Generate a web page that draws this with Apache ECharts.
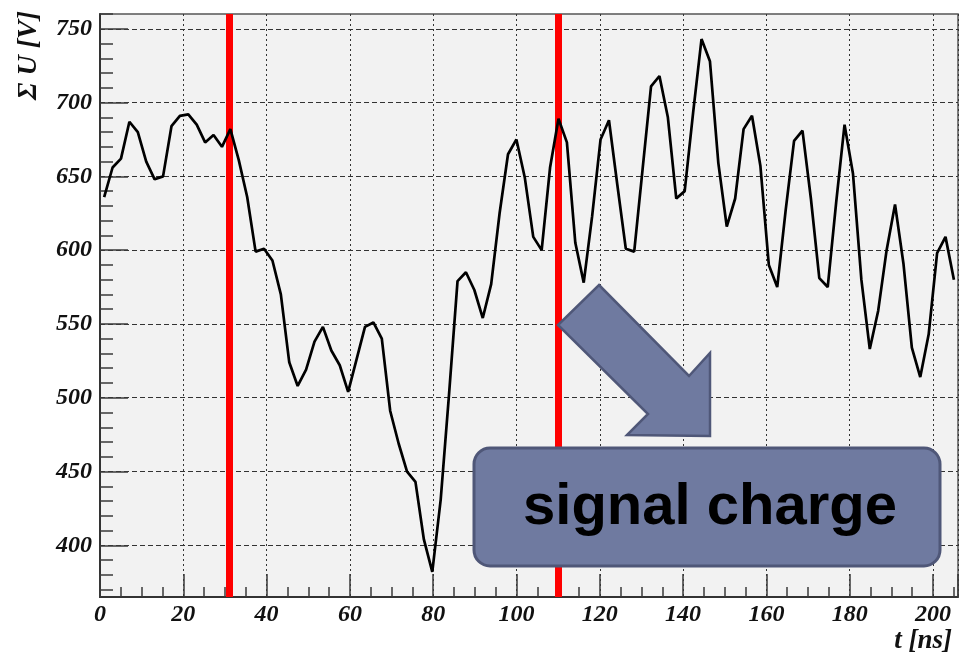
<!DOCTYPE html>
<html>
<head>
<meta charset="utf-8">
<script src="https://cdn.jsdelivr.net/npm/echarts@6/dist/echarts.min.js"></script>
<style>
html, body { margin: 0; padding: 0; background: #fff; }
#main { width: 971px; height: 659px; }
</style>
</head>
<body>
<div id="main"></div>
<script>
// sum voltage samples, first sample at t0, one sample every dt ns
var t0 = 1;
var dt = 2.02;
var sumU = [
    636, 656, 662, 687, 680, 660, 648, 650, 684, 691, 692, 685, 673, 678, 670, 682, 661, 636, 599, 601, 593, 570,
    524, 508, 519, 538, 548, 532, 522, 504, 526, 548, 551, 540,
    491, 469, 450, 443, 404, 382, 431, 503, 579, 585, 573, 554, 577, 625, 665, 675, 649,
    609, 600, 656, 689, 673, 605, 578, 623, 675, 688, 644, 601, 599, 655, 711, 718,
    690, 635, 640, 693, 743, 728, 659, 616, 635, 682, 691, 657, 590, 575, 627, 674, 681, 635, 581, 575, 632, 685, 652,
    580, 533, 559, 600, 631, 591, 534, 514, 543, 598, 609, 580
];
// red marker lines [ns]
var markers = [31, 110];

var xLabels = [0, 20, 40, 60, 80, 100, 120, 140, 160, 180, 200];
var yLabels = [400, 450, 500, 550, 600, 650, 700, 750];

var points = sumU.map(function (v, i) { return [t0 + dt * i, v]; });

// small ticks: every 5 ns / every 10 V
var xMinor = [];
for (var x = 5; x <= 205; x += 5) { if (x % 20 !== 0) xMinor.push(x); }
var yMinor = [];
for (var y = 370; y <= 760; y += 10) { if (y % 50 !== 0) yMinor.push(y); }

var serif = "'Liberation Serif', 'DejaVu Serif', serif";
var labelStyle = {
    fontFamily: serif, fontWeight: 'bold', fontStyle: 'italic',
    fontSize: 24, color: '#111'
};
var tickColor = '#3a3a3a';

var option = {
    animation: false,
    backgroundColor: '#ffffff',
    grid: {
        left: 100, right: 13, top: 14, bottom: 62,
        show: true,
        backgroundColor: '#f2f2f2',
        borderColor: '#555',
        borderWidth: 1.5
    },
    xAxis: [
        {
            type: 'value', min: 0, max: 206, interval: 20, position: 'bottom',
            axisLine: { onZero: false, lineStyle: { color: '#333', width: 2 } },
            axisTick: { inside: true, length: 23, lineStyle: { color: tickColor, width: 1.5 } },
            axisLabel: Object.assign({ margin: 6, customValues: xLabels }, labelStyle),
            splitLine: { show: true, lineStyle: { color: '#333', width: 1, type: [2, 3] } }
        },
        {
            type: 'value', min: 0, max: 206, position: 'bottom',
            axisLine: { show: false, onZero: false },
            axisTick: { inside: true, length: 10, customValues: xMinor, lineStyle: { color: tickColor, width: 1.5 } },
            axisLabel: { show: false },
            splitLine: { show: false }
        }
    ],
    yAxis: [
        {
            type: 'value', min: 365, max: 760, splitNumber: 8, position: 'left',
            axisLine: { show: true, onZero: false, lineStyle: { color: '#333', width: 2 } },
            axisTick: { show: true, inside: true, length: 28, customValues: yLabels, lineStyle: { color: tickColor, width: 1.5 } },
            axisLabel: Object.assign({ margin: 8, customValues: yLabels }, labelStyle),
            splitLine: { show: true, lineStyle: { color: '#333', width: 1, type: [5, 3] } }
        },
        {
            type: 'value', min: 365, max: 760, position: 'left',
            axisLine: { show: false, onZero: false },
            axisTick: { show: true, inside: true, length: 13, customValues: yMinor, lineStyle: { color: tickColor, width: 1.5 } },
            axisLabel: { show: false },
            splitLine: { show: false }
        }
    ],
    series: [
        {
            // red markers, drawn under the signal
            type: 'line',
            data: [],
            z: 2,
            markLine: {
                silent: true,
                symbol: ['none', 'none'],
                label: { show: false },
                lineStyle: { color: '#ff0000', width: 7, type: 'solid', opacity: 1 },
                data: markers.map(function (m) { return { xAxis: m }; })
            }
        },
        {
            type: 'line',
            data: points,
            symbol: 'none',
            lineStyle: { color: '#000', width: 2.7 },
            z: 5
        }
    ],
    graphic: [
        {
            type: 'text', left: 15, top: 11, rotation: Math.PI / 2,
            style: {
                text: 'Σ U [V]', fill: '#111',
                font: "italic bold 28px " + serif
            }
        },
        {
            type: 'text', right: 19, top: 628,
            style: {
                text: 't [ns]', fill: '#111',
                font: "italic bold 27px " + serif
            }
        },
        {
            type: 'polygon', z: 100,
            shape: { points: [[599, 285], [689, 376], [710, 353], [710, 436], [627, 435], [648, 414], [558, 325]] },
            style: { fill: '#6f7aa0', stroke: '#4f5778', lineWidth: 2.5 }
        },
        {
            type: 'rect', z: 100,
            shape: { x: 474, y: 448, width: 466, height: 118, r: 16 },
            style: { fill: '#6f7aa0', stroke: '#4f5778', lineWidth: 3 }
        },
        {
            type: 'text', z: 101, x: 710, y: 508,
            style: {
                text: 'signal charge', fill: '#000',
                font: "bold 58px 'Liberation Sans', Arial, sans-serif",
                align: 'center', verticalAlign: 'middle',
                textAlign: 'center', textVerticalAlign: 'middle'
            }
        }
    ]
};

var myChart = echarts.init(document.getElementById('main'));
myChart.setOption(option);
</script>
</body>
</html>
